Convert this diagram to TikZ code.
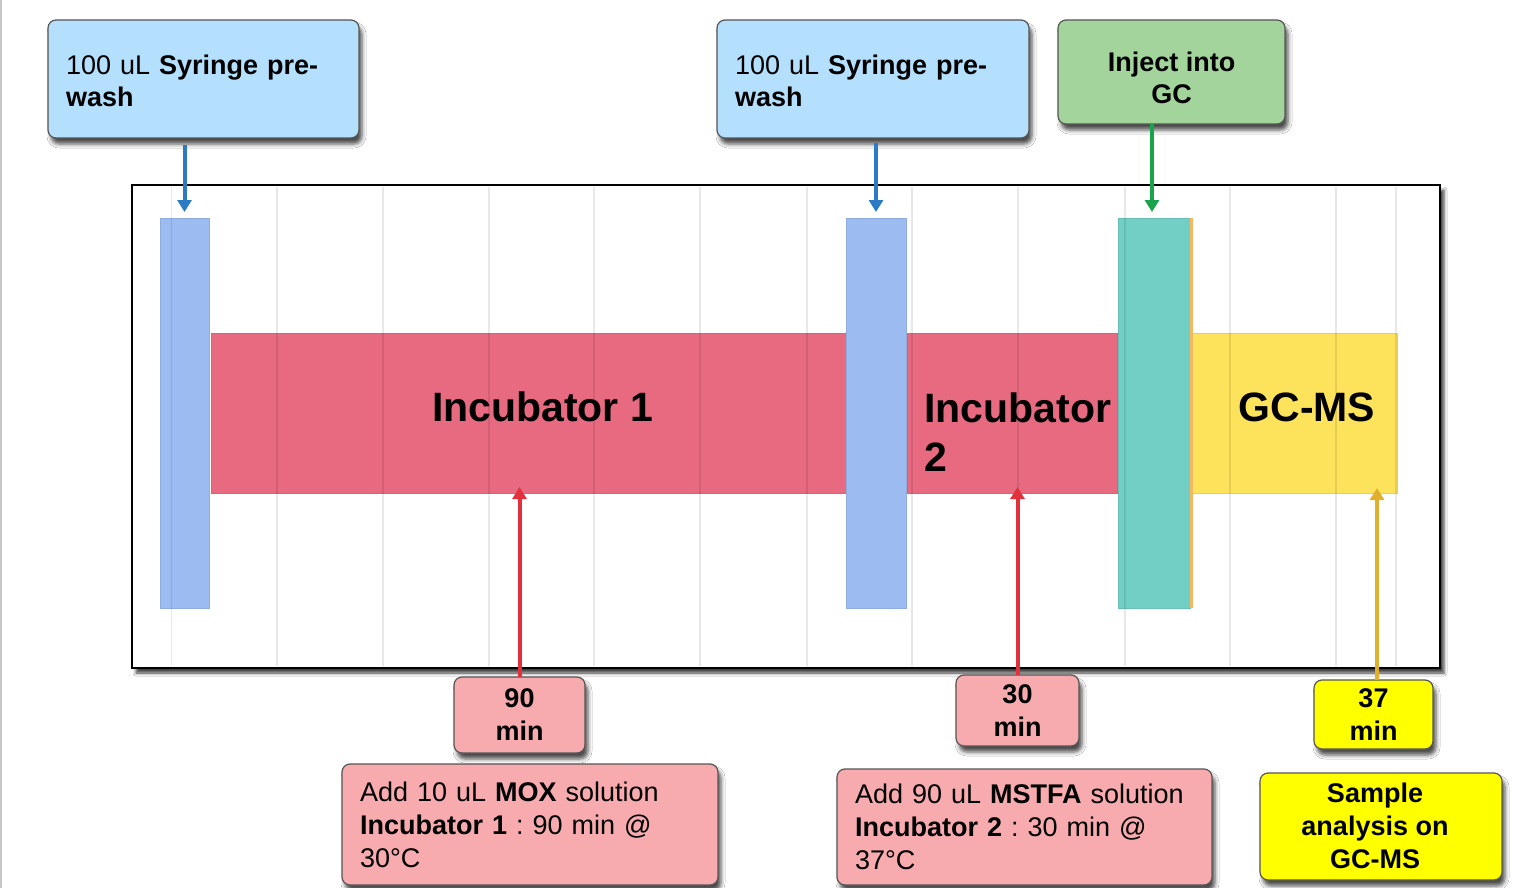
\documentclass[tikz,border=0pt]{standalone}
\usepackage{fontspec}
\setmainfont{Liberation Sans}
\usetikzlibrary{arrows.meta,shadows.blur}
\frenchspacing

\definecolor{skyfill}{RGB}{180,224,254}
\definecolor{greenfill}{RGB}{163,212,156}
\definecolor{pinkfill}{RGB}{247,171,174}
\definecolor{yellowfill}{RGB}{255,255,0}
\definecolor{boxedge}{RGB}{85,85,85}
\definecolor{prewash}{RGB}{155,187,241}
\definecolor{incub}{RGB}{231,106,129}
\definecolor{inject}{RGB}{114,207,198}
\definecolor{gcbar}{RGB}{253,226,91}
\definecolor{arrblue}{RGB}{43,123,196}
\definecolor{arrgreen}{RGB}{27,163,75}
\definecolor{arrred}{RGB}{226,49,61}
\definecolor{arrgold}{RGB}{226,175,44}
\definecolor{edgeorange}{RGB}{245,184,96}

\begin{document}
\begin{tikzpicture}[x=1pt,y=-1pt,
  note/.style={draw=boxedge, line width=1.2pt, rounded corners=8pt,
    blur shadow={shadow xshift=3pt, shadow yshift=-6pt,
      shadow blur radius=4pt, shadow opacity=70},
    font=\fontsize{27}{32}\selectfont, inner sep=0pt, outer sep=0pt},
  leftnote/.style={note, align=left, inner xsep=18pt},
  midnote/.style={note, align=center},
  bar/.style={inner sep=0pt, outer sep=0pt, draw=#1!92!black, line width=0.8pt, fill=#1},
  barlabel/.style={font=\fontsize{41}{49}\selectfont\bfseries, inner sep=0pt},
  arr/.style={line width=4pt, -{Triangle[width=14pt,length=12pt]}},
  grid/.style={draw=black, opacity=0.09, line width=1.6pt}
]
\useasboundingbox (0,0) rectangle (1521,888);
\fill[white] (0,0) rectangle (1521,888);
\draw[black!22, line width=1.5pt] (0.75,0) -- (0.75,888);

% chart frame
\node[draw=black, line width=2pt, fill=white, inner sep=0pt, outer sep=0pt,
  minimum width=1308pt, minimum height=483pt,
  blur shadow={shadow xshift=4pt, shadow yshift=-5pt, shadow blur radius=3pt, shadow opacity=75}]
  (chart) at (786,426.5) {};

% timeline bars
\node[bar=prewash, minimum width=49pt, minimum height=390pt] (bar1) at (184.5,413) {};
\node[bar=incub, minimum width=635pt, minimum height=160pt] (inc1) at (528.5,413) {};
\node[bar=prewash, minimum width=60pt, minimum height=390pt] (bar2) at (876,413) {};
\node[bar=incub, minimum width=210pt, minimum height=160pt] (inc2) at (1012,413) {};
\node[bar=gcbar, minimum width=206pt, minimum height=160pt] (gcms) at (1294,413) {};
\node[bar=inject, minimum width=72pt, minimum height=390pt] (teal) at (1154,413) {};
\fill[edgeorange] (teal.north east) rectangle ([xshift=3pt]teal.south east);

% grid lines
\foreach \gx in {171.5,277,383,489,594,700,807,912,1018,1125,1230,1336,1396}
  \draw[grid] (\gx,187) -- (\gx,666);

% bar labels
\node[barlabel] (lab1) at (542.5,407) {Incubator 1};
\node[barlabel, align=left, anchor=north west] (lab2) at (924,392.5) {Incubator\\2};
\node[barlabel] (lab3) at (1307,407) {GC-MS};

% top notes
\node[leftnote, fill=skyfill, text width=275pt, minimum height=118pt] (wash1) at (203.5,79)
  {\rule{0pt}{24pt}100 uL \textbf{Syringe pre-}\\\textbf{wash}};
\node[leftnote, fill=skyfill, text width=276pt, minimum height=118pt] (wash2) at (873,79)
  {\rule{0pt}{24pt}100 uL \textbf{Syringe pre-}\\\textbf{wash}};
\node[midnote, fill=greenfill, minimum width=227pt, minimum height=104pt, font=\fontsize{27}{32}\selectfont\bfseries] (inj) at (1171.5,72)
  {\rule{0pt}{32pt}Inject into\\GC};

% bottom notes
\node[midnote, fill=pinkfill, minimum width=131pt, minimum height=76pt, font=\fontsize{27}{33}\selectfont\bfseries] (t90) at (519.5,715) {90\\min};
\node[midnote, fill=pinkfill, minimum width=123pt, minimum height=71pt, font=\fontsize{27}{33}\selectfont\bfseries] (t30) at (1017.5,710.5) {30\\min};
\node[midnote, fill=yellowfill, minimum width=119pt, minimum height=69pt, font=\fontsize{27}{33}\selectfont\bfseries] (t37) at (1373.5,714.5) {37\\min};

\node[leftnote, fill=pinkfill, text width=340pt, minimum height=121pt, font=\fontsize{27}{33}\selectfont] (add1) at (530,824.5)
  {Add 10 uL \textbf{MOX} solution\\\textbf{Incubator 1} : 90 min @\\30°C};
\node[leftnote, fill=pinkfill, text width=339pt, minimum height=116pt, font=\fontsize{27}{33}\selectfont] (add2) at (1024.5,827)
  {Add 90 uL \textbf{MSTFA} solution\\\textbf{Incubator 2} : 30 min @\\37°C};
\node[note, fill=yellowfill, minimum width=242pt, minimum height=107pt, font=\fontsize{27}{33}\selectfont\bfseries] (sample) at (1381,826.5)
  {\begin{tabular}{@{}c@{}}\rule{0pt}{27pt}Sample\\analysis on\\GC-MS\end{tabular}\rule{12pt}{0pt}};

% connectors
\draw[arr, arrblue] ([yshift=-7pt]wash1.south -| bar1.north) -- ([yshift=6pt]bar1.north);
\draw[arr, arrblue] ([yshift=-5pt]wash2.south -| bar2.north) -- ([yshift=6pt]bar2.north);
\draw[arr, arrgreen] ([xshift=-2pt]inj.south -| teal.north) -- ([xshift=-2pt,yshift=6pt]teal.north);
\draw[arr, arrred] (t90.north) -- ([yshift=6pt]t90.north |- inc1.south);
\draw[arr, arrred] (t30.north) -- ([yshift=6pt]t30.north |- inc2.south);
\draw[arr, arrgold] ([xshift=3.5pt]t37.north) -- ([xshift=3.5pt,yshift=5pt]t37.north |- gcms.south);
\end{tikzpicture}
\end{document}
